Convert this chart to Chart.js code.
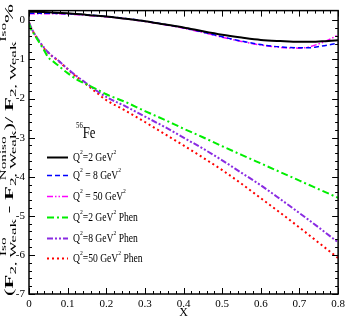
<!DOCTYPE html>
<html>
<head>
<meta charset="utf-8">
<script src="https://cdn.jsdelivr.net/npm/chart.js@4.4.1/dist/chart.umd.min.js"></script>
<style>
  body { margin: 0; background: #fff; }
  #wrap { width: 349px; height: 320px; }
</style>
</head>
<body>
<div id="wrap"><canvas id="myChart"></canvas></div>
<script>
// upper curves (Q^2 = 2, 8, 50 GeV^2)
var xUpper = [0, 0.05, 0.1, 0.15, 0.2, 0.25, 0.3, 0.35, 0.4, 0.45, 0.5, 0.55, 0.6, 0.65, 0.7, 0.725, 0.75, 0.775, 0.8];
var q2 = [0.22, 0.21, 0.18, 0.14, 0.1, 0.04, -0.02, -0.1, -0.18, -0.28, -0.37, -0.44, -0.5, -0.53, -0.55, -0.55, -0.54, -0.53, -0.51];
var q8 = [0.18, 0.18, 0.17, 0.14, 0.1, 0.05, -0.02, -0.1, -0.19, -0.3, -0.42, -0.53, -0.62, -0.68, -0.7, -0.7, -0.67, -0.63, -0.58];
var q50 = [0.17, 0.17, 0.16, 0.13, 0.09, 0.04, -0.03, -0.11, -0.2, -0.31, -0.43, -0.54, -0.63, -0.69, -0.71, -0.68, -0.6, -0.5, -0.37];

// phenomenological curves
var xPhen = [0, 0.005, 0.01, 0.02, 0.03, 0.04, 0.05, 0.06, 0.075, 0.1, 0.125, 0.15, 0.175, 0.2, 0.25, 0.3, 0.35, 0.4, 0.45, 0.5, 0.55, 0.6, 0.65, 0.7, 0.75, 0.8];
var q2Phen = [-0.08, -0.22, -0.3, -0.46, -0.62, -0.78, -0.95, -1.03, -1.15, -1.35, -1.52, -1.64, -1.76, -1.89, -2.09, -2.32, -2.54, -2.77, -2.99, -3.22, -3.44, -3.66, -3.88, -4.1, -4.32, -4.54];
var q8Phen = [-0.05, -0.17, -0.27, -0.43, -0.58, -0.71, -0.82, -0.91, -1.02, -1.24, -1.44, -1.62, -1.8, -1.96, -2.2, -2.46, -2.72, -3.0, -3.28, -3.58, -3.9, -4.22, -4.57, -4.93, -5.3, -5.68];
var q50Phen = [-0.05, -0.18, -0.28, -0.44, -0.59, -0.73, -0.83, -0.92, -1.03, -1.25, -1.46, -1.65, -1.85, -2.04, -2.31, -2.6, -2.9, -3.2, -3.51, -3.83, -4.18, -4.55, -4.92, -5.3, -5.69, -6.08];

var xTicks = [0, 0.1, 0.2, 0.3, 0.4, 0.5, 0.6, 0.7, 0.8];
var yTicks = [0, -1, -2, -3, -4, -5, -6, -7];

var legendRows = [
  [['Q', 0], ['2', 1], ['=2 GeV', 0], ['2', 1]],
  [['Q', 0], ['2', 1], [' = 8 GeV', 0], ['2', 1]],
  [['Q', 0], ['2', 1], [' = 50 GeV', 0], ['2', 1]],
  [['Q', 0], ['2', 1], ['=2 GeV', 0], ['2', 1], [' Phen', 0]],
  [['Q', 0], ['2', 1], ['=8 GeV', 0], ['2', 1], [' Phen', 0]],
  [['Q', 0], ['2', 1], ['=50 GeV', 0], ['2', 1], [' Phen', 0]]
];
var legendY = [157, 175, 196, 217, 238, 258];

function pts(xs, ys) {
  return xs.map(function (x, i) { return { x: x, y: ys[i] }; });
}

var SERIF = '"Liberation Serif", "DejaVu Serif", serif';

// inward ticks on all four sides + frame
var frame = {
  id: 'frame',
  afterDraw: function (chart) {
    var c = chart.ctx, a = chart.chartArea;
    var xs = chart.scales.x, ys = chart.scales.y;
    c.save();
    c.strokeStyle = '#000';
    c.lineWidth = 1;
    for (var i = 0; i <= 40; i++) {
      var v = i * 0.02;
      var px = Math.round(xs.getPixelForValue(v)) + 0.5;
      var len = (i % 5 === 0) ? 6 : 3;
      c.beginPath();
      c.moveTo(px, a.bottom); c.lineTo(px, a.bottom - len);
      c.moveTo(px, a.top); c.lineTo(px, a.top + len);
      c.stroke();
    }
    for (var j = 0; j <= 35; j++) {
      var vy = -j * 0.2;
      var py = Math.round(ys.getPixelForValue(vy)) + 0.5;
      var ly = (j % 5 === 0) ? 6 : 3;
      c.beginPath();
      c.moveTo(a.left, py); c.lineTo(a.left + ly, py);
      c.moveTo(a.right, py); c.lineTo(a.right - ly, py);
      c.stroke();
    }
    c.lineWidth = 1.5;
    c.strokeRect(a.left, a.top, a.right - a.left, a.bottom - a.top);
    c.restore();
  }
};

function richWidth(c, parts) {
  var w = 0;
  parts.forEach(function (p) {
    c.font = (p.b ? 'bold ' : '') + p.s + 'px ' + SERIF;
    p.w = c.measureText(p.t).width;
  });
  parts.forEach(function (p) { if (!p.over) w += p.w; });
  return w;
}

// rotated y title, legend and the 56Fe label
var labels = {
  id: 'labels',
  afterDraw: function (chart) {
    var c = chart.ctx;
    c.save();
    c.fillStyle = '#000';
    c.textBaseline = 'alphabetic';
    c.textAlign = 'left';

    var parts = [
      { t: '(', s: 12 }, { t: 'F', s: 12, b: 1 },
      { t: '2, Weak', s: 9, dy: 2.5 }, { t: 'Iso', s: 8, dy: -7, over: 1 },
      { t: ' - ', s: 12 }, { t: 'F', s: 12, b: 1 },
      { t: '2, Weak', s: 9, dy: 2.5 }, { t: 'Noniso', s: 8, dy: -7, over: 1 },
      { t: ')/ ', s: 12 }, { t: 'F', s: 12, b: 1 },
      { t: '2, Weak', s: 9, dy: 2.5 }, { t: 'Iso', s: 8, dy: -7 },
      { t: '%', s: 12 }
    ];
    var W = richWidth(c, parts);
    var span = 292;
    c.save();
    c.translate(13, 150);
    c.rotate(-Math.PI / 2);
    c.scale(span / W, 1);
    var x = -W / 2, prevX = x, prevW = 0;
    parts.forEach(function (p) {
      c.font = (p.b ? 'bold ' : '') + p.s + 'px ' + SERIF;
      if (p.over) {
        c.fillText(p.t, prevX + (prevW - p.w) / 2, p.dy || 0);
      } else {
        c.fillText(p.t, x, p.dy || 0);
        prevX = x; prevW = p.w;
        x += p.w;
      }
    });
    c.restore();

    // 56Fe
    c.save();
    c.translate(76, 138);
    c.scale(0.75, 1);
    c.font = '9px ' + SERIF;
    c.fillText('56', 0, -10);
    var w56 = c.measureText('56').width;
    c.font = '17px ' + SERIF;
    c.fillText('Fe', w56, 0);
    c.restore();

    // legend
    chart.data.datasets.forEach(function (ds, i) {
      var y = legendY[i];
      c.save();
      c.strokeStyle = ds.borderColor;
      c.lineWidth = ds.borderWidth;
      c.setLineDash(ds.borderDash || []);
      c.beginPath();
      c.moveTo(47, y + 0.5); c.lineTo(68, y + 0.5);
      c.stroke();
      c.restore();

      c.save();
      c.translate(73, y + 4);
      c.scale(0.8, 1);
      var tx = 0;
      legendRows[i].forEach(function (p) {
        c.font = (p[1] ? 7 : 12) + 'px ' + SERIF;
        c.fillText(p[0], tx, p[1] ? -7 : 0);
        tx += c.measureText(p[0]).width;
      });
      c.restore();
    });
    c.restore();
  }
};

var ctx = document.getElementById('myChart');
var myChart = new Chart(ctx, {
  type: 'line',
  data: {
    datasets: [
      { label: 'Q2=2', data: pts(xUpper, q2), borderColor: '#000000', borderWidth: 2 },
      { label: 'Q2=8', data: pts(xUpper, q8), borderColor: '#0000ff', borderWidth: 1.5, borderDash: [5, 3] },
      { label: 'Q2=50', data: pts(xUpper, q50), borderColor: '#ff00ff', borderWidth: 1.5, borderDash: [6, 2, 1.5, 2, 1.5, 2] },
      { label: 'Q2=2 Phen', data: pts(xPhen, q2Phen), borderColor: '#00ee00', borderWidth: 2, borderDash: [7, 3, 2, 3] },
      { label: 'Q2=8 Phen', data: pts(xPhen, q8Phen), borderColor: '#8a2be2', borderWidth: 2, borderDash: [6, 2, 2, 2, 2, 2] },
      { label: 'Q2=50 Phen', data: pts(xPhen, q50Phen), borderColor: '#ff0000', borderWidth: 2, borderDash: [2, 3] }
    ]
  },
  options: {
    responsive: true,
    maintainAspectRatio: false,
    animation: false,
    layout: { padding: { top: 4, right: 6, left: 0, bottom: 0 } },
    elements: { point: { radius: 0 }, line: { cubicInterpolationMode: 'monotone', fill: false } },
    plugins: { legend: { display: false }, tooltip: { enabled: false } },
    scales: {
      x: {
        type: 'linear', min: 0, max: 0.8,
        afterBuildTicks: function (s) { s.ticks = xTicks.map(function (v) { return { value: v }; }); },
        afterFit: function (s) { s.height = 26; },
        grid: { display: false, drawTicks: false },
        border: { display: false },
        ticks: { color: '#000', padding: 4, maxRotation: 0, font: { family: SERIF, size: 11 },
          callback: function (v) { return String(Math.round(v * 10) / 10); } },
        title: { display: true, text: 'X', color: '#000', padding: { top: 0, bottom: 0 }, font: { family: SERIF, size: 12 } }
      },
      y: {
        type: 'linear', min: -7, max: 0.25,
        afterBuildTicks: function (s) { s.ticks = yTicks.map(function (v) { return { value: v }; }); },
        afterFit: function (s) { s.width = 29; },
        grid: { display: false, drawTicks: false },
        border: { display: false },
        ticks: { color: '#000', padding: 4, font: { family: SERIF, size: 11 } }
      }
    }
  },
  plugins: [frame, labels]
});
</script>
</body>
</html>
